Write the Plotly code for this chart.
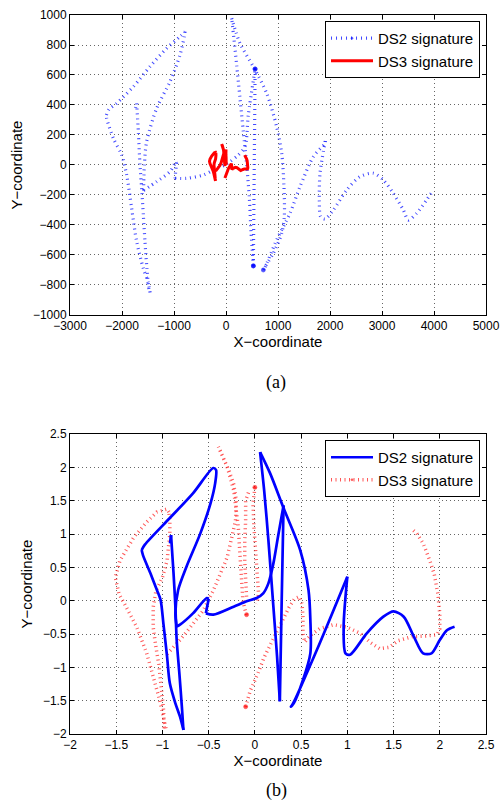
import plotly.graph_objects as go

# ---------------- (a) raw pen coordinates ----------------
# DS2 signature, raw pen trajectory (one continuous stroke)
ds2_raw_x = [-1740, -1718, -1686, -1654, -1622, -1590, -1558, -1526, -1474, -1460,
             -1500, -1590, -1718, -1814, -1910, -2006, -2167, -2295, -2300, -2250,
             -2102, -1782, -1462, -1141, -885, -788,
             -800, -885, -1077, -1333, -1526, -1570, -1585,
             -1333, -1077, -960, -950, -981,
             -756, -436, -179, -19, 77, 237, 365,
             429, 560,
             526,
             481, 449, 398, 333, 269, 205, 150, 109,
             269, 526, 782, 974, 1071, 1115, 1121, 1071, 910, 750, 718, 740,
             974, 1231, 1423, 1679, 1904, 1910,
             1808, 1795, 1820, 1904,
             2064, 2321, 2577, 2833, 3025, 3218, 3410, 3506, 3667, 3859, 3987]
ds2_raw_y = [380, 411, 222, 0, -156, -333, -511, -667, -844, -850,
             -780, -689, -511, -289, -67, 67, 178, 311, 333, 370,
             411, 522, 656, 778, 856, 889,
             860, 733, 556, 378, 156, 0, -170,
             -111, -44, 22, 15, -89,
             -89, -67, -22, 0, 22, 67, 122,
             333, 640,
             -673,
             -444, -222, 0, 222, 444, 667, 850, 978,
             811, 655, 478, 255, 78, -145, -345, -456, -589, -678, -700, -690,
             -500, -322, -145, 55, 145, 160,
             -55, -233, -345, -360,
             -300, -167, -78, -55, -100, -189, -300, -367, -322, -233, -167]
ds2_raw_corners = [1, 9, 18, 25, 32, 36, 37, 46, 47, 55, 73]
ds2_raw_dots = [46, 47, 66]

# DS3 signature, raw pen trajectory (separate pen-down strokes)
ds3_raw_strokes_x = [
    [-195, -200, -223, -246, -275, -307, -317, -309, -292, -269, -246, -231, -216, -202,
     -206, -208, -212, -218, -225, -231, -231, -225, -210, -200, -193, -193, -195],
    [-200, -170, -147, -118, -95, -80, -63, -52, -44, -42, -48, -59, -69, -83,
     -63, -48, -38, -34, -29, -27, -23, -19],
    [0, -4, -2, 2, 6, 8, 4],
    [-15, -21, -21, -23, -23, -21, -19],
    [-21, -10, 6, 21, 36, 48, 63, 78, 90, 101, 107, 109, 109, 113, 126, 147, 179, 210,
     239, 263, 284, 305, 326, 357, 389, 414, 420, 420, 416, 407, 397, 382, 368, 359],
]
ds3_raw_strokes_y = [
    [82, 85, 82, 73, 60, 40, 25, 11, -1, -18, -41, -61, -81, -107,
     -105, -88, -70, -50, -36, -18, -1, 14, 25, 40, 63, 75, 82],
    [-41, -29, -18, -4, 14, 28, 43, 60, 75, 92, 107, 118, 128, 139,
     122, 101, 69, 43, 20, 6, -2, -7],
    [104, 89, 69, 49, 28, 11, 2],
    [99, 92, 75, 57, 40, 22, 8],
    [-87, -73, -59, -44, -33, -23, -11, -1, 7, 8, 2, -10, -24, -31, -25, -19, -16, -18,
     -23, -32, -37, -36, -30, -26, -26, -25, -19, -7, 11, 28, 40, 55, 64, 66],
]

# ---------------- (b) normalised coordinates ----------------
ds2_norm_x = [-0.918, -0.907, -0.88, -0.86, -0.846, -0.817, -0.79, -0.773,
              -0.81, -0.86, -0.92, -0.95, -0.99, -1.02, -1.06, -1.13, -1.21, -1.225, -1.19,
              -0.92, -0.67, -0.45, -0.42, -0.43, -0.48, -0.59, -0.74, -0.83, -0.86, -0.846,
              -0.81, -0.67, -0.52, -0.50, -0.53, -0.45, -0.23, -0.09, 0.02, 0.09, 0.146, 0.20, 0.25, 0.31,
              0.29, 0.27,
              0.24, 0.20, 0.146, 0.10, 0.056,
              0.165, 0.31, 0.49, 0.58, 0.60, 0.60, 0.52, 0.42, 0.39, 0.41,
              0.67, 1.0, 0.96, 0.98, 1.03, 1.21, 1.39, 1.50, 1.61, 1.72, 1.82, 1.91, 2.0, 2.08, 2.16]
ds2_norm_y = [0.86, 0.985, 0.41, -0.09, -0.59, -1.09, -1.59, -1.94,
              -1.74, -1.54, -1.24, -0.84, -0.34, 0.01, 0.16, 0.41, 0.68, 0.76, 0.84,
              1.24, 1.61, 1.99, 1.96, 1.76, 1.46, 1.01, 0.51, 0.16, -0.19, -0.39,
              -0.36, -0.19, 0.04, 0.03, -0.19, -0.21, -0.09, -0.01, 0.04, 0.11, 0.26, 0.56, 0.96, 1.43,
              0.0, -1.51,
              -0.84, -0.09, 0.91, 1.66, 2.23,
              1.91, 1.39, 0.76, 0.16, -0.29, -0.79, -1.19, -1.54, -1.59, -1.55,
              -0.74, 0.36, -0.39, -0.79, -0.81, -0.49, -0.24, -0.16, -0.24, -0.54, -0.79, -0.79, -0.59, -0.44, -0.39]
ds2_norm_corners = [1, 7, 17, 29, 33, 34, 43, 45, 50, 62]

ds3_norm_strokes_x = [
    [-0.93, -0.95, -1.06, -1.17, -1.31, -1.46, -1.51, -1.47, -1.39, -1.28, -1.17, -1.10, -1.03, -0.96,
     -0.98, -0.99, -1.01, -1.04, -1.07, -1.10, -1.10, -1.07, -1.00, -0.95, -0.92, -0.92, -0.93],
    [-0.95, -0.81, -0.70, -0.56, -0.45, -0.38, -0.30, -0.25, -0.21, -0.20, -0.23, -0.28, -0.33, -0.395,
     -0.30, -0.23, -0.18, -0.16, -0.14, -0.13, -0.11, -0.09],
    [0.0, -0.02, -0.01, 0.01, 0.03, 0.04, 0.02],
    [-0.07, -0.10, -0.10, -0.11, -0.11, -0.10, -0.09],
    [-0.10, -0.05, 0.03, 0.10, 0.17, 0.23, 0.30, 0.37, 0.43, 0.48, 0.51, 0.52, 0.52, 0.54, 0.60, 0.70,
     0.85, 1.00, 1.14, 1.25, 1.35, 1.45, 1.55, 1.70, 1.85, 1.97, 2.00, 2.00, 1.98, 1.94, 1.89, 1.82, 1.75, 1.71],
]
ds3_norm_strokes_y = [
    [1.33, 1.375, 1.33, 1.18, 0.95, 0.6, 0.35, 0.1, -0.1, -0.39, -0.79, -1.14, -1.49, -1.93,
     -1.9, -1.6, -1.3, -0.95, -0.7, -0.4, -0.1, 0.15, 0.35, 0.6, 1.0, 1.2, 1.33],
    [-0.8, -0.59, -0.40, -0.15, 0.15, 0.4, 0.65, 0.95, 1.2, 1.5, 1.75, 1.95, 2.12, 2.31,
     2.01, 1.66, 1.11, 0.66, 0.26, 0.01, -0.12, -0.21],
    [1.7, 1.45, 1.1, 0.75, 0.4, 0.1, -0.05],
    [1.62, 1.5, 1.2, 0.9, 0.6, 0.3, 0.05],
    [-1.59, -1.35, -1.10, -0.85, -0.65, -0.48, -0.28, -0.10, 0.03, 0.06, -0.05, -0.25, -0.50, -0.62, -0.52, -0.42,
     -0.36, -0.40, -0.49, -0.63, -0.72, -0.70, -0.60, -0.54, -0.53, -0.51, -0.42, -0.20, 0.10, 0.40, 0.61, 0.86, 1.01, 1.06],
]
ds3_norm_dots = [(1, -1), (2, 0), (4, 0)]   # (stroke, point) where the pen dot is visible

top_xticks = [-3000, -2000, -1000, 0, 1000, 2000, 3000, 4000, 5000]
top_yticks = [-1000, -800, -600, -400, -200, 0, 200, 400, 600, 800, 1000]
bot_ticks = [-2, -1.5, -1, -0.5, 0, 0.5, 1, 1.5, 2, 2.5]


def fmt(v):
    return ("%g" % v).replace("-", "\u2212")


def split_at_corners(xs, ys, corners, dots=(), dot_size=4):
    """Break a trajectory at its sharp corners so each smooth piece can be splined."""
    ox, oy, sz = [], [], []
    cset = set(corners)
    for i, (x, y) in enumerate(zip(xs, ys)):
        s = dot_size if i in dots else 0
        ox.append(x); oy.append(y); sz.append(s)
        if i in cset and 0 < i < len(xs) - 1:
            ox += [None, x]; oy += [None, y]; sz += [0, s]
    return ox, oy, sz


def join_strokes(xs, ys, dots=(), dot_size=4):
    """Concatenate pen-down strokes with gaps; return x, y and marker sizes."""
    ox, oy, sz = [], [], []
    for k, (sx, sy) in enumerate(zip(xs, ys)):
        if k:
            ox.append(None); oy.append(None); sz.append(0)
        n = len(sx)
        for i in range(n):
            ox.append(sx[i]); oy.append(sy[i])
            hit = any(d[0] == k and (d[1] % n) == i for d in dots)
            sz.append(dot_size if hit else 0)
    return ox, oy, sz


SANS = "Liberation Sans, Arial, Helvetica, sans-serif"
SERIF = "Liberation Serif, Times New Roman, serif"

fig = go.Figure()

# (a) raw
ax, ay, asz = split_at_corners(ds2_raw_x, ds2_raw_y, ds2_raw_corners, ds2_raw_dots)
fig.add_trace(go.Scatter(
    x=ax, y=ay, mode="lines+markers", name="DS2 signature",
    line=dict(color="rgba(20,30,255,0.8)", width=3.2, dash="1px,4px",
              shape="spline", smoothing=0.8),
    marker=dict(color="#0000ff", size=asz),
    xaxis="x", yaxis="y", legend="legend"))
rx, ry, _ = join_strokes(ds3_raw_strokes_x, ds3_raw_strokes_y)
fig.add_trace(go.Scatter(
    x=rx, y=ry, mode="lines", name="DS3 signature",
    line=dict(color="#ff0000", width=3),
    xaxis="x", yaxis="y", legend="legend"))

# (b) normalised
nx, ny, nsz = join_strokes(ds3_norm_strokes_x, ds3_norm_strokes_y, ds3_norm_dots)
fig.add_trace(go.Scatter(
    x=nx, y=ny, mode="lines+markers", name="DS3 signature",
    line=dict(color="rgba(255,30,30,0.75)", width=3.5, dash="1px,3.5px"),
    marker=dict(color="#ff0000", size=nsz),
    xaxis="x2", yaxis="y2", legend="legend2"))
bx, by, _ = split_at_corners(ds2_norm_x, ds2_norm_y, ds2_norm_corners)
fig.add_trace(go.Scatter(
    x=bx, y=by, mode="lines", name="DS2 signature",
    line=dict(color="#0000ff", width=2.7, shape="spline", smoothing=0.8),
    xaxis="x2", yaxis="y2", legend="legend2"))

axis_common = dict(
    automargin=False,
    showline=True, linecolor="black", linewidth=1, mirror="allticks",
    ticks="inside", ticklen=4, tickcolor="black",
    showgrid=True, gridcolor="#666666", gridwidth=1, griddash="1px,3px",
    zeroline=False, tickfont=dict(family=SANS, size=12, color="black"),
    title_font=dict(family=SANS, size=15, color="black"),
)

legend_common = dict(
    xanchor="right", yanchor="top", bgcolor="white", bordercolor="black", borderwidth=1,
    font=dict(family=SANS, size=15, color="black"), tracegroupgap=0, itemwidth=42,
)

fig.update_layout(
    template="none",
    width=500, height=811,
    margin=dict(l=70, r=14, t=15, b=77),
    paper_bgcolor="white", plot_bgcolor="white",
    xaxis=dict(axis_common, domain=[0, 1], anchor="y", range=[-3000, 5000],
               tickvals=top_xticks, ticktext=[fmt(v) for v in top_xticks],
               title=dict(text="X\u2212coordinate", standoff=4)),
    yaxis=dict(axis_common, domain=[0.5828, 1], anchor="x", range=[-1000, 1000],
               tickvals=top_yticks, ticktext=[fmt(v) for v in top_yticks],
               title=dict(text="Y\u2212coordinate", standoff=6)),
    xaxis2=dict(axis_common, domain=[0, 1], anchor="y2", range=[-2, 2.5],
                tickvals=bot_ticks, ticktext=[fmt(v) for v in bot_ticks],
                title=dict(text="X\u2212coordinate", standoff=4)),
    yaxis2=dict(axis_common, domain=[0, 0.4172], anchor="x2", range=[-2, 2.5],
                tickvals=bot_ticks, ticktext=[fmt(v) for v in bot_ticks],
                title=dict(text="Y\u2212coordinate", standoff=6)),
    legend=dict(legend_common, x=0.9856, y=0.9917),
    legend2=dict(legend_common, x=0.9856, y=0.4089, traceorder="reversed"),
    annotations=[
        dict(text="(a)", x=0.4952, y=0.4882, xref="paper", yref="paper",
             showarrow=False, font=dict(family=SERIF, size=18, color="black")),
        dict(text="(b)", x=0.4952, y=-0.0955, xref="paper", yref="paper",
             showarrow=False, font=dict(family=SERIF, size=18, color="black")),
    ],
    showlegend=True,
)

fig.write_html("out.html")
